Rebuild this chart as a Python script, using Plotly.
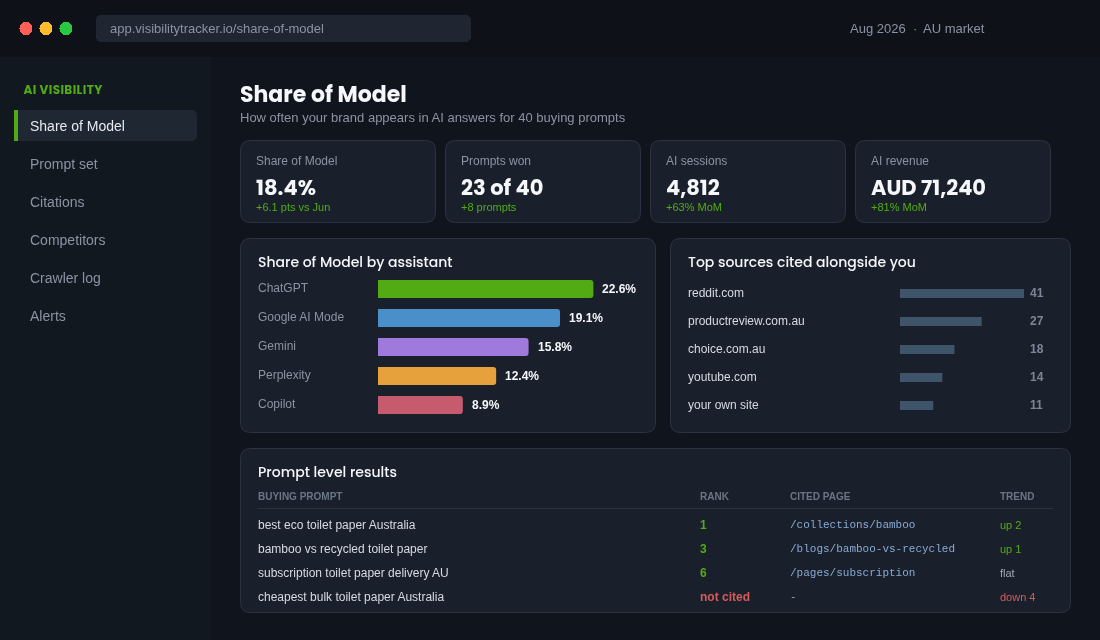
import plotly.graph_objects as go

W, H = 1100, 640
SANS = "Liberation Sans, Arial, sans-serif"
HEAD = "Poppins, Inter, sans-serif"
MONO = "Liberation Mono, monospace"

# ---- data ----
assistants = ["ChatGPT", "Google AI Mode", "Gemini", "Perplexity", "Copilot"]
share_values = [22.6, 19.1, 15.8, 12.4, 8.9]
share_colors = ["#53ab14", "#4a8fca", "#a079dc", "#e6a03c", "#c65b6d"]

sources = ["reddit.com", "productreview.com.au", "choice.com.au", "youtube.com", "your own site"]
source_counts = [41, 27, 18, 14, 11]

nav_items = ["Share of Model", "Prompt set", "Citations", "Competitors", "Crawler log", "Alerts"]

kpi_labels = ["Share of Model", "Prompts won", "AI sessions", "AI revenue"]
kpi_values = ["18.4%", "23 of 40", "4,812", "AUD 71,240"]
kpi_deltas = ["+6.1 pts vs Jun", "+8 prompts", "+63% MoM", "+81% MoM"]

table_headers = ["BUYING PROMPT", "RANK", "CITED PAGE", "TREND"]
prompts = ["best eco toilet paper Australia", "bamboo vs recycled toilet paper",
           "subscription toilet paper delivery AU", "cheapest bulk toilet paper Australia"]
ranks = ["1", "3", "6", "not cited"]
pages = ["/collections/bamboo", "/blogs/bamboo-vs-recycled", "/pages/subscription", "-"]
trends = ["up 2", "up 1", "flat", "down 4"]

# ---- colours ----
GREEN = "#53ab14"
RED = "#d65a5a"
MUTED = "#8b93a3"
LIGHT = "#d6dae1"
WHITE = "#f5f7fa"
CARD = "#1a202b"
EDGE = "#2b3240"
rank_colors = [GREEN, GREEN, GREEN, RED]
trend_colors = [GREEN, GREEN, "#a0a7b4", RED]

px = lambda x: x / W
py = lambda y: 1 - y / H


def rrect(x0, y0, x1, y1, r, fill, line=None):
    X0, X1, Y0, Y1 = px(x0), px(x1), py(y0), py(y1)
    rx, ry = r / W, r / H
    path = (f"M {X0+rx} {Y0} L {X1-rx} {Y0} Q {X1} {Y0} {X1} {Y0-ry} "
            f"L {X1} {Y1+ry} Q {X1} {Y1} {X1-rx} {Y1} "
            f"L {X0+rx} {Y1} Q {X0} {Y1} {X0} {Y1+ry} "
            f"L {X0} {Y0-ry} Q {X0} {Y0} {X0+rx} {Y0} Z")
    return dict(type="path", xref="paper", yref="paper", path=path, fillcolor=fill,
                line=dict(color=line or fill, width=1 if line else 0), layer="below")


def rect(x0, y0, x1, y1, fill):
    return dict(type="rect", xref="paper", yref="paper", x0=px(x0), x1=px(x1), y0=py(y0), y1=py(y1),
                fillcolor=fill, line=dict(width=0), layer="below")


def circle(cx, cy, r, fill):
    return dict(type="circle", xref="paper", yref="paper", x0=px(cx-r), x1=px(cx+r), y0=py(cy-r), y1=py(cy+r),
                fillcolor=fill, line=dict(width=0), layer="below")


def text(x, y, s, size=12, color=LIGHT, family=SANS, weight=None, anchor="left"):
    return dict(xref="paper", yref="paper", x=px(x), y=py(y), text=s, showarrow=False, xanchor=anchor,
                yanchor="middle", borderpad=0, borderwidth=0,
                font=dict(size=size, color=color, family=family, weight=weight or "normal"))


shapes, notes = [], []

# chrome
shapes += [rect(0, 0, W, 57, "#0e1118"), rect(0, 57, 211, H, "#121820")]
shapes += [circle(26, 28.5, 6.5, "#ff5f57"), circle(46, 28.5, 6.5, "#febc2e"), circle(66, 28.5, 6.5, "#28c840")]
shapes.append(rrect(96, 15, 471, 42, 6, "#1f2632"))
notes.append(text(110, 28.5, "app.visibilitytracker.io/share-of-model", 13, MUTED))
notes.append(text(850, 28.5, "Aug 2026", 13, MUTED))
notes.append(text(913, 28.5, "·", 13, MUTED))
notes.append(text(923, 28.5, "AU market", 13, MUTED))

# sidebar
notes.append(text(26.2, 89.5, "AI VISIBILITY", 12, GREEN, HEAD, 700))
shapes.append(rrect(14, 110, 197, 141, 6, "#1f2733"))
shapes.append(rect(14, 110, 18, 141, GREEN))
for i, item in enumerate(nav_items):
    y = 126 + 38 * i
    notes.append(text(30, y, item, 14, "#e6e9ef" if i == 0 else MUTED))

# header
notes.append(text(240, 94.5, "Share of Model", 22, WHITE, HEAD, 700))
notes.append(text(240, 117.5, "How often your brand appears in AI answers for 40 buying prompts", 13, MUTED))

# KPI cards
for i in range(4):
    x0 = 240 + 205 * i
    shapes.append(rrect(x0 + .5, 140.5, x0 + 195.5, 222.5, 10, CARD, EDGE))
    notes.append(text(x0 + 16, 161, kpi_labels[i], 12, MUTED))
    notes.append(text(x0 + 16, 187.5, kpi_values[i], 21, WHITE, HEAD, 700))
    notes.append(text(x0 + 16, 206.5, kpi_deltas[i], 11, GREEN))

# panels
shapes.append(rrect(240.5, 238.5, 655.5, 432.5, 10, CARD, EDGE))
shapes.append(rrect(670.5, 238.5, 1070.5, 432.5, 10, CARD, EDGE))
shapes.append(rrect(240.5, 448.5, 1070.5, 612.5, 10, CARD, EDGE))
notes.append(text(258, 262, "Share of Model by assistant", 14, WHITE, HEAD, 500))
notes.append(text(688, 262, "Top sources cited alongside you", 14, WHITE, HEAD, 500))
notes.append(text(258, 472, "Prompt level results", 14, WHITE, HEAD, 500))

# table
cols = [258, 700, 790, 1000]
for x, h in zip(cols, table_headers):
    notes.append(text(x, 496.5, h, 10, "#6c7585", SANS, 700))
shapes.append(rect(258, 508, 1053, 509, EDGE))
for i in range(4):
    y = 525 + 24 * i
    notes.append(text(cols[0], y, prompts[i], 12, LIGHT))
    notes.append(text(cols[1], y, ranks[i], 12, rank_colors[i], SANS, 700))
    notes.append(text(cols[2], y, pages[i], 11, "#88a9d2" if i < 3 else "#9aa3b2", MONO))
    notes.append(text(cols[3], y, trends[i], 11, trend_colors[i]))

fig = go.Figure()

fig.add_trace(go.Bar(x=share_values, y=assistants, orientation="h", xaxis="x", yaxis="y",
                     marker=dict(color=share_colors, cornerradius=3, line=dict(width=0)),
                     width=18 / 29, hoverinfo="skip"))
fig.add_trace(go.Bar(x=source_counts, y=sources, orientation="h", xaxis="x2", yaxis="y2",
                     marker=dict(color="#3d5469", line=dict(width=0)),
                     width=9 / 28, hoverinfo="skip"))

# labels tied to data positions
for a, v in zip(assistants, share_values):
    notes.append(dict(xref="paper", yref="y", x=px(258), y=a, text=a, showarrow=False, xanchor="left",
                      yanchor="middle", yshift=1, borderpad=0, borderwidth=0,
                      font=dict(size=12, color=MUTED, family=SANS)))
    notes.append(dict(xref="x", yref="y", x=v, y=a, text=f"{v}%", showarrow=False, xanchor="left",
                      yanchor="middle", xshift=9, yshift=0, borderpad=0, borderwidth=0,
                      font=dict(size=12, color=WHITE, family=SANS, weight=700)))
for s, c in zip(sources, source_counts):
    notes.append(dict(xref="paper", yref="y2", x=px(688), y=s, text=s, showarrow=False, xanchor="left",
                      yanchor="middle", yshift=1, borderpad=0, borderwidth=0, font=dict(size=12, color=LIGHT, family=SANS)))
    notes.append(dict(xref="paper", yref="y2", x=px(1030), y=s, text=str(c), showarrow=False, xanchor="left",
                      yanchor="middle", yshift=1, borderpad=0, borderwidth=0, font=dict(size=12, color="#7d8696", family=SANS, weight=700)))

hidden = dict(visible=False, fixedrange=True, showgrid=False, zeroline=False)
fig.update_layout(
    width=W, height=H, margin=dict(l=0, r=0, t=0, b=0), showlegend=False,
    paper_bgcolor="#10141c", plot_bgcolor="rgba(0,0,0,0)", font=dict(family=SANS),
    shapes=shapes, annotations=notes,
    xaxis=dict(domain=[px(378), px(616.25)], range=[0, 25], anchor="y", **hidden),
    yaxis=dict(domain=[py(419.5), py(274.5)], categoryorder="array", categoryarray=assistants[::-1], anchor="x", **hidden),
    xaxis2=dict(domain=[px(900), px(1024)], range=[0, 41], anchor="y2", **hidden),
    yaxis2=dict(domain=[py(419.5), py(279.5)], categoryorder="array", categoryarray=sources[::-1], anchor="x2", **hidden),
)

css = ("svg text{text-rendering:optimizeSpeed !important}"
       "svg.main-svg{will-change:transform}"
       ".shapelayer path[style*='stroke-width: 0']{shape-rendering:crispEdges !important}")
post = ("var st=document.createElement('style');st.textContent=" + repr(css) + ";document.head.appendChild(st);"
        "document.body.style.margin='0';document.body.style.overflow='hidden';document.body.style.background='#10141c';"
        "document.querySelectorAll('.annotation-text').forEach(function(t){if(t.textContent==='AI VISIBILITY'){t.style.letterSpacing='0.4px';}});")

fig.write_html("out.html", config=dict(displayModeBar=False, staticPlot=True), post_script=post)
